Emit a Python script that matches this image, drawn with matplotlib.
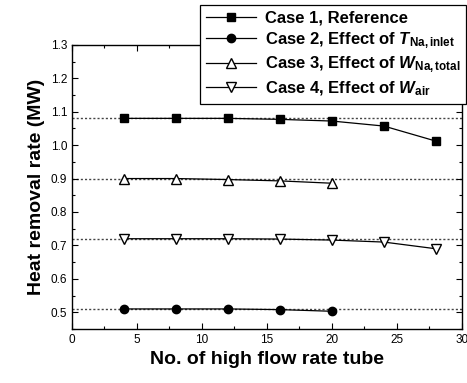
import matplotlib
matplotlib.use('Agg')
import matplotlib.pyplot as plt
from matplotlib.ticker import MultipleLocator

plt.rcParams['font.family'] = ['Liberation Sans', 'DejaVu Sans']
plt.rcParams['mathtext.fontset'] = 'custom'
plt.rcParams['mathtext.rm'] = 'Liberation Sans'
plt.rcParams['mathtext.bf'] = 'Liberation Sans:bold'
plt.rcParams['mathtext.it'] = 'Liberation Sans:italic'
plt.rcParams['mathtext.bfit'] = 'Liberation Sans:bold:italic'

tubes_long = [4, 8, 12, 16, 20, 24, 28]
tubes_short = [4, 8, 12, 16, 20]
case1 = [1.080, 1.080, 1.080, 1.077, 1.072, 1.057, 1.012]
case2 = [0.510, 0.510, 0.510, 0.508, 0.503]
case3 = [0.900, 0.900, 0.897, 0.893, 0.886]
case4 = [0.720, 0.720, 0.720, 0.719, 0.716, 0.710, 0.690]
base_levels = [1.08, 0.90, 0.72, 0.51]

labels = [
    'Case 1, Reference',
    r'Case 2, Effect of $\mathbfit{T}_{\mathbf{Na,inlet}}$',
    r'Case 3, Effect of $\mathbfit{W}_{\mathbf{Na,total}}$',
    r'Case 4, Effect of $\mathbfit{W}_{\mathbf{air}}$',
]

fig = plt.figure(figsize=(4.67, 3.83), dpi=100)
ax = fig.add_axes([0.154, 0.141, 0.835, 0.742])

for lvl in base_levels:
    ax.axhline(lvl, color='#444444', ls=(0, (1.5, 1.5)), lw=1.0, zorder=1)

ax.plot(tubes_long, case1, 'k-', marker='s', ms=6, lw=0.9, label=labels[0], zorder=3)
ax.plot(tubes_short, case2, 'k-', marker='o', ms=6, lw=0.9, label=labels[1], zorder=3)
ax.plot(tubes_short, case3, 'k-', marker='^', ms=7, mfc='white', lw=0.9, label=labels[2], zorder=3)
ax.plot(tubes_long, case4, 'k-', marker='v', ms=7, mfc='white', lw=0.9, label=labels[3], zorder=3)

ax.set_xlim(0, 30)
ax.set_ylim(0.45, 1.3)
ax.xaxis.set_major_locator(MultipleLocator(5))
ax.xaxis.set_minor_locator(MultipleLocator(2.5))
ax.yaxis.set_major_locator(MultipleLocator(0.1))
ax.yaxis.set_minor_locator(MultipleLocator(0.05))
ax.tick_params(which='both', direction='in', top=True, right=True, labelsize=8.5, width=0.8)
ax.tick_params(which='major', length=4)
ax.tick_params(which='minor', length=2)
for s in ax.spines.values():
    s.set_linewidth(1.0)

ax.set_xlabel('No. of high flow rate tube', fontsize=14, fontweight='bold')
ax.set_ylabel('Heat removal rate (MW)', fontsize=14, fontweight='bold')

leg = ax.legend(loc='upper right', bbox_to_anchor=(0.998, 0.987), bbox_transform=fig.transFigure,
                borderaxespad=0, fancybox=False, edgecolor='black', framealpha=1,
                prop={'weight': 'bold', 'size': 12}, handlelength=3.0,
                borderpad=0.35, labelspacing=0.25, handletextpad=0.5)
leg.get_frame().set_linewidth(0.9)

fig.savefig('out.png', dpi=100)
